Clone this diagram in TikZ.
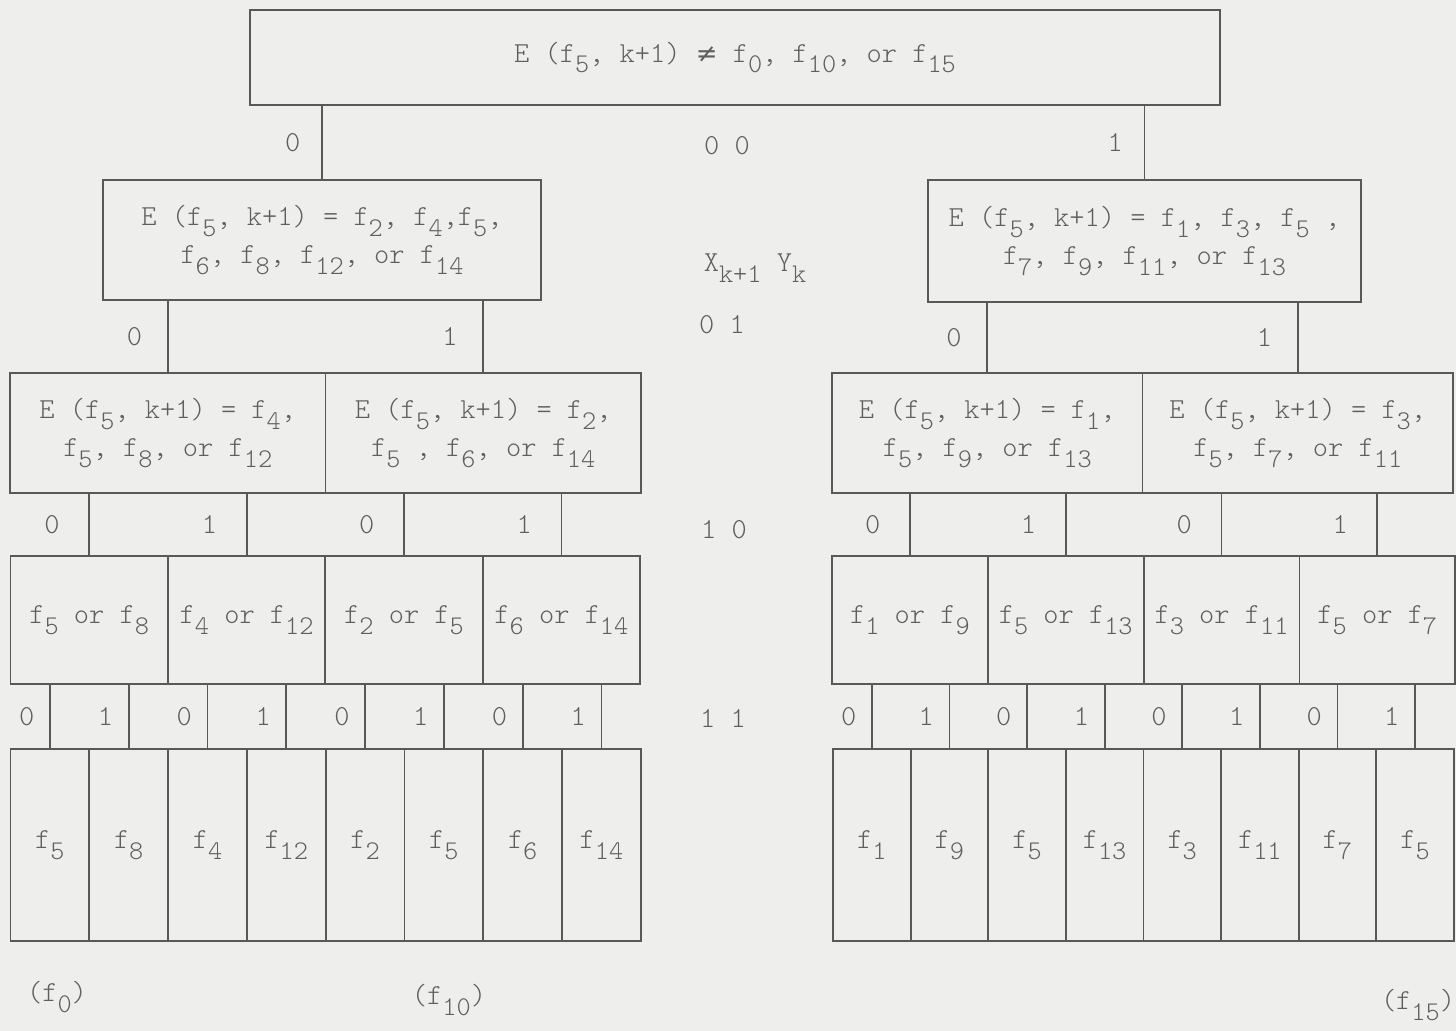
\documentclass[tikz,border=0pt]{standalone}
\usepackage{fontspec}
\usepackage{tikz}
\usetikzlibrary{positioning}
\newfontfamily\typew{Latin Modern Mono Light}
\newfontfamily\symb{DejaVu Sans}
\definecolor{paper}{RGB}{238,238,236}
\definecolor{rule}{RGB}{88,88,88}
\definecolor{ink}{RGB}{95,95,95}
\newcommand{\dn}[1]{\raisebox{-0.85ex}{\fontsize{13.5}{13.5}\selectfont #1}}

\begin{document}
\begin{tikzpicture}[
    x=0.5pt, y=-0.5pt,
    box/.style={draw=rule, line width=0.9pt, align=center, inner sep=0pt,
                outer sep=0pt, text=ink, font=\typew\fontsize{14.5}{19}\selectfont},
    cell/.style={box, minimum width=#1},
    lbl/.style={text=ink, font=\typew\fontsize{14.5}{16}\selectfont},
    link/.style={draw=rule, line width=0.9pt}
]

\fill[paper] (0,0) rectangle (1456,1031);
\useasboundingbox (0,0) rectangle (1456,1031);

% first decision
\node[cell=485pt, minimum height=47.5pt] (top) at (735,57.5)
    {E (f\dn{5}, k+1) {\symb\fontsize{13}{13}\selectfont ≠} f\dn{0}, f\dn{10}, or f\dn{15}};

% second level
\node[cell=219pt, minimum height=60pt] (n0) at (322,240)
    {E (f\dn{5}, k+1) = f\dn{2}, f\dn{4},f\dn{5},\\ f\dn{6}, f\dn{8}, f\dn{12}, or f\dn{14}};
\node[cell=216.5pt, minimum height=61pt] (n1) at (1144.5,241)
    {E (f\dn{5}, k+1) = f\dn{1}, f\dn{3}, f\dn{5} ,\\ f\dn{7}, f\dn{9}, f\dn{11}, or f\dn{13}};

% third level
\node[cell=157.75pt, minimum height=60pt] (n00) at (167.75,433)
    {E (f\dn{5}, k+1) = f\dn{4},\\ f\dn{5}, f\dn{8}, or f\dn{12}};
\node[cell=157.75pt, minimum height=60pt, right=0pt of n00] (n01)
    {E (f\dn{5}, k+1) = f\dn{2},\\ f\dn{5} , f\dn{6}, or f\dn{14}};
\node[cell=155.25pt, minimum height=60pt] (n10) at (987.25,433)
    {E (f\dn{5}, k+1) = f\dn{1},\\ f\dn{5}, f\dn{9}, or f\dn{13}};
\node[cell=155.25pt, minimum height=60pt, right=0pt of n10] (n11)
    {E (f\dn{5}, k+1) = f\dn{3},\\ f\dn{5}, f\dn{7}, or f\dn{11}};

% fourth level
\node[cell=78.7pt, minimum height=64pt] (n000) at (89.2,620) {f\dn{5} or f\dn{8}};
\node[cell=78.7pt, minimum height=64pt, right=0pt of n000] (n001) {f\dn{4} or f\dn{12}};
\node[cell=78.7pt, minimum height=64pt, right=0pt of n001] (n010) {f\dn{2} or f\dn{5}};
\node[cell=78.7pt, minimum height=64pt, right=0pt of n010] (n011) {f\dn{6} or f\dn{14}};
\node[cell=77.9pt, minimum height=64pt] (n100) at (909.9,620) {f\dn{1} or f\dn{9}};
\node[cell=77.9pt, minimum height=64pt, right=0pt of n100] (n101) {f\dn{5} or f\dn{13}};
\node[cell=77.9pt, minimum height=64pt, right=0pt of n101] (n110) {f\dn{3} or f\dn{11}};
\node[cell=77.9pt, minimum height=64pt, right=0pt of n110] (n111) {f\dn{5} or f\dn{7}};

% leaves
\node[cell=39.4pt, minimum height=96pt] (n0000) at (49.9,845) {f\dn{5}};
\node[cell=39.4pt, minimum height=96pt, right=0pt of n0000] (n0001) {f\dn{8}};
\node[cell=39.4pt, minimum height=96pt, right=0pt of n0001] (n0010) {f\dn{4}};
\node[cell=39.4pt, minimum height=96pt, right=0pt of n0010] (n0011) {f\dn{12}};
\node[cell=39.4pt, minimum height=96pt, right=0pt of n0011] (n0100) {f\dn{2}};
\node[cell=39.4pt, minimum height=96pt, right=0pt of n0100] (n0101) {f\dn{5}};
\node[cell=39.4pt, minimum height=96pt, right=0pt of n0101] (n0110) {f\dn{6}};
\node[cell=39.4pt, minimum height=96pt, right=0pt of n0110] (n0111) {f\dn{14}};
\node[cell=38.8pt, minimum height=96pt] (n1000) at (871.8,845) {f\dn{1}};
\node[cell=38.8pt, minimum height=96pt, right=0pt of n1000] (n1001) {f\dn{9}};
\node[cell=38.8pt, minimum height=96pt, right=0pt of n1001] (n1010) {f\dn{5}};
\node[cell=38.8pt, minimum height=96pt, right=0pt of n1010] (n1011) {f\dn{13}};
\node[cell=38.8pt, minimum height=96pt, right=0pt of n1011] (n1100) {f\dn{3}};
\node[cell=38.8pt, minimum height=96pt, right=0pt of n1100] (n1101) {f\dn{11}};
\node[cell=38.8pt, minimum height=96pt, right=0pt of n1101] (n1110) {f\dn{7}};
\node[cell=38.8pt, minimum height=96pt, right=0pt of n1110] (n1111) {f\dn{5}};

% X_{k+1} Y_k column
\node[lbl] (c00) at (727,146) {0 0};
\node[lbl] (xy) at (755,268) {X\dn{k+1} Y\dn{k}};
\node[lbl] (c01) at (722,325) {0 1};
\node[lbl] (c10) at (724,530) {1 0};
\node[lbl] (c11) at (723,718) {1 1};

% final states
\node[lbl] (s0) at (57,997) {(f\dn{0})};
\node[lbl] (s10) at (449,1000) {(f\dn{10})};
\node[lbl] (s15) at (1418,1005) {(f\dn{15})};

\draw[link] (n0.north |- top.south) -- (n0.north) node[midway, lbl, left=7pt] {0};
\draw[link] (n1.north |- top.south) -- (n1.north) node[midway, lbl, left=7pt] {1};

\draw[link] (n00.north |- n0.south) -- (n00.north) node[midway, lbl, left=9pt] {0};
\draw[link] (n01.north |- n0.south) -- (n01.north) node[midway, lbl, left=9pt] {1};
\draw[link] (n10.north |- n1.south) -- (n10.north) node[midway, lbl, left=9pt] {0};
\draw[link] (n11.north |- n1.south) -- (n11.north) node[midway, lbl, left=9pt] {1};

\draw[link] (n000.north |- n00.south) -- (n000.north) node[midway, lbl, left=11pt] {0};
\draw[link] (n001.north |- n00.south) -- (n001.north) node[midway, lbl, left=11pt] {1};
\draw[link] (n010.north |- n01.south) -- (n010.north) node[midway, lbl, left=11pt] {0};
\draw[link] (n011.north |- n01.south) -- (n011.north) node[midway, lbl, left=11pt] {1};
\draw[link] (n100.north |- n10.south) -- (n100.north) node[midway, lbl, left=11pt] {0};
\draw[link] (n101.north |- n10.south) -- (n101.north) node[midway, lbl, left=11pt] {1};
\draw[link] (n110.north |- n11.south) -- (n110.north) node[midway, lbl, left=11pt] {0};
\draw[link] (n111.north |- n11.south) -- (n111.north) node[midway, lbl, left=11pt] {1};

\draw[link] (n0000.north |- n000.south) -- (n0000.north) node[midway, lbl, left=4pt] {0};
\draw[link] (n0001.north |- n000.south) -- (n0001.north) node[midway, lbl, left=4pt] {1};
\draw[link] (n0010.north |- n001.south) -- (n0010.north) node[midway, lbl, left=4pt] {0};
\draw[link] (n0011.north |- n001.south) -- (n0011.north) node[midway, lbl, left=4pt] {1};
\draw[link] (n0100.north |- n010.south) -- (n0100.north) node[midway, lbl, left=4pt] {0};
\draw[link] (n0101.north |- n010.south) -- (n0101.north) node[midway, lbl, left=4pt] {1};
\draw[link] (n0110.north |- n011.south) -- (n0110.north) node[midway, lbl, left=4pt] {0};
\draw[link] (n0111.north |- n011.south) -- (n0111.north) node[midway, lbl, left=4pt] {1};
\draw[link] (n1000.north |- n100.south) -- (n1000.north) node[midway, lbl, left=4pt] {0};
\draw[link] (n1001.north |- n100.south) -- (n1001.north) node[midway, lbl, left=4pt] {1};
\draw[link] (n1010.north |- n101.south) -- (n1010.north) node[midway, lbl, left=4pt] {0};
\draw[link] (n1011.north |- n101.south) -- (n1011.north) node[midway, lbl, left=4pt] {1};
\draw[link] (n1100.north |- n110.south) -- (n1100.north) node[midway, lbl, left=4pt] {0};
\draw[link] (n1101.north |- n110.south) -- (n1101.north) node[midway, lbl, left=4pt] {1};
\draw[link] (n1110.north |- n111.south) -- (n1110.north) node[midway, lbl, left=4pt] {0};
\draw[link] (n1111.north |- n111.south) -- (n1111.north) node[midway, lbl, left=4pt] {1};

\end{tikzpicture}
\end{document}
